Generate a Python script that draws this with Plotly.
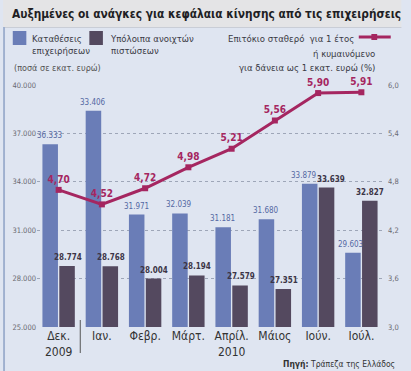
import plotly.graph_objects as go

# ---- data ----
months = ["Δεκ.<br>2009", "Ιαν.", "Φεβρ.", "Μάρτ.", "Απρίλ.<br>2010", "Μάιος", "Ιούν.", "Ιούλ."]
# bar heights (Jan bar is drawn at ~38.4k although printed as 33.406)
deposits = [36333, 38406, 31971, 32039, 31181, 31680, 33879, 29603]
deposit_labels = ["36.333", "33.406", "31.971", "32.039", "31.181", "31.680", "33.879", "29.603"]
credit = [28774, 28768, 28004, 28194, 27579, 27351, 33639, 32827]
credit_labels = ["28.774", "28.768", "28.004", "28.194", "27.579", "27.351", "33.639", "32.827"]
rate = [4.70, 4.52, 4.72, 4.98, 5.21, 5.56, 5.90, 5.91]
rate_labels = ["4,70", "4,52", "4,72", "4,98", "5,21", "5,56", "5,90", "5,91"]
left_ticks = [25000, 28000, 31000, 34000, 37000, 40000]
left_ticklabels = ["25.000", "28.000", "31.000", "34.000", "37.000", "40.000"]
right_ticks = [3.0, 3.6, 4.2, 4.8, 5.4, 6.0]
right_ticklabels = ["3,0", "3,6", "4,2", "4,8", "5,4", "6,0"]

title = "Αυξημένες οι ανάγκες για κεφάλαια κίνησης από τις επιχειρήσεις"
legend_dep = "Καταθέσεις<br>επιχειρήσεων"
legend_cred = "Υπόλοιπα ανοιχτών<br>πιστώσεων"
units = "(ποσά σε εκατ. ευρώ)"
legend_rate = ["Επιτόκιο σταθερό  για 1 έτος", "ή κυμαινόμενο", "για δάνεια ως 1 εκατ. ευρώ (%)"]
source = "<b>Πηγή:</b> Τράπεζα της Ελλάδος"

# ---- styling ----
W, H = 411, 371
ML, MR, MT, MB = 35, 19, 85, 44
BLUE = "#6a7db7"
DARK = "#54495f"
RATE = "#a52660"
BG = "#dfe5f1"
FONT = "DejaVu Sans Condensed, Roboto, sans-serif"

PW = W - ML - MR
PH = H - MT - MB
CAT_W = PW / len(months)


def px_x(px):
    return (px - ML) / PW


def px_y(py):
    return (H - MB - py) / PH


fig = go.Figure()
fig.add_trace(go.Bar(x=months, y=deposits, marker_color=BLUE, marker_line_width=0,
                     name="dep", offsetgroup="a"))
fig.add_trace(go.Bar(x=months, y=credit, marker_color=DARK, marker_line_width=0,
                     name="cred", offsetgroup="b"))
fig.add_trace(go.Scatter(
    x=months, y=rate, yaxis="y2", mode="lines+markers+text",
    line=dict(color=RATE, width=3), marker=dict(symbol="square", size=6, color=RATE),
    text=["<b>%s</b>" % t for t in rate_labels], textposition="top center",
    textfont=dict(color=RATE, size=10, family=FONT), cliponaxis=False, name="rate",
))

shapes = [
    # title band
    dict(type="rect", xref="paper", yref="paper", x0=px_x(0), x1=px_x(W), y0=px_y(27), y1=px_y(0),
         fillcolor="#e4e4e6", line_width=0, layer="below"),
    dict(type="line", xref="paper", yref="paper", x0=px_x(0), x1=px_x(W), y0=px_y(27.5), y1=px_y(27.5),
         line=dict(color="#c9cdd6", width=1)),
    # left border
    dict(type="rect", xref="paper", yref="paper", x0=px_x(0), x1=px_x(2), y0=px_y(H), y1=px_y(27),
         fillcolor="#9fb0cf", line_width=0),
    # legend squares
    dict(type="rect", xref="paper", yref="paper", x0=px_x(10), x1=px_x(24), y0=px_y(45), y1=px_y(31),
         fillcolor=BLUE, line_width=0),
    dict(type="rect", xref="paper", yref="paper", x0=px_x(89), x1=px_x(103), y0=px_y(45), y1=px_y(31),
         fillcolor=DARK, line_width=0),
    # rate legend sample
    dict(type="line", xref="paper", yref="paper", x0=px_x(367), x1=px_x(400), y0=px_y(37), y1=px_y(37),
         line=dict(color=RATE, width=3)),
    dict(type="rect", xref="paper", yref="paper", x0=px_x(380), x1=px_x(386), y0=px_y(40), y1=px_y(34),
         fillcolor=RATE, line_width=0),
    # year separator between Dec 2009 and Jan
    dict(type="line", xref="x", yref="paper", x0=0.5, x1=0.5, y0=px_y(320), y1=px_y(353),
         line=dict(color="#555", width=1)),
]

annotations = [
    dict(text="<b>%s</b>" % title, x=px_x(7), y=px_y(14), xanchor="left", yanchor="middle",
         xref="paper", yref="paper", font=dict(size=11.8, color="#1e1e24", family=FONT)),
    dict(text=legend_dep, x=px_x(28), y=px_y(31), xanchor="left", yanchor="top", align="left",
         xref="paper", yref="paper", font=dict(size=9.5, color="#3a3a44", family=FONT)),
    dict(text=legend_cred, x=px_x(108), y=px_y(31), xanchor="left", yanchor="top", align="left",
         xref="paper", yref="paper", font=dict(size=9.5, color="#3a3a44", family=FONT)),
    dict(text=units, x=px_x(9), y=px_y(68), xanchor="left", yanchor="middle",
         xref="paper", yref="paper", font=dict(size=9, color="#555", family=FONT)),
    dict(text=legend_rate[0], x=px_x(364), y=px_y(38), xanchor="right", yanchor="middle",
         xref="paper", yref="paper", font=dict(size=9.5, color="#3a3a44", family=FONT)),
    dict(text=legend_rate[1], x=px_x(386), y=px_y(53), xanchor="right", yanchor="middle",
         xref="paper", yref="paper", font=dict(size=9.5, color="#3a3a44", family=FONT)),
    dict(text=legend_rate[2], x=px_x(386), y=px_y(68), xanchor="right", yanchor="middle",
         xref="paper", yref="paper", font=dict(size=9.5, color="#3a3a44", family=FONT)),
    dict(text=source, x=px_x(406), y=px_y(364), xanchor="right", yanchor="middle",
         xref="paper", yref="paper", font=dict(size=8.5, color="#333", family=FONT)),
]

# bar value labels, placed above each bar
BAR_SHIFT = CAT_W * 0.2
nudge_blue = [0, 0, 0, 0, 0, 0, 5, 2]
nudge_dark = [0, 0, 0, 0, 0, 0, 4, 0]
for i, m in enumerate(months):
    annotations.append(dict(text=deposit_labels[i], x=m, y=deposits[i], xref="x", yref="y",
                            xanchor="center", yanchor="bottom", xshift=-BAR_SHIFT - nudge_blue[i], yshift=2,
                            font=dict(size=8, color="#5568a3", family=FONT)))
    annotations.append(dict(text="<b>%s</b>" % credit_labels[i], x=m, y=credit[i], xref="x", yref="y",
                            xanchor="center", yanchor="bottom", xshift=BAR_SHIFT + nudge_dark[i], yshift=2,
                            font=dict(size=8, color="#3c3547", family=FONT)))

for a in annotations:
    a.update(showarrow=False)

fig.update_layout(
    width=W, height=H, margin=dict(l=ML, r=MR, t=MT, b=MB, pad=0),
    paper_bgcolor=BG, plot_bgcolor=BG, showlegend=False,
    barmode="group", bargap=0.22, bargroupgap=0.08,
    font=dict(family=FONT),
    shapes=shapes, annotations=annotations,
    xaxis=dict(range=[-0.5, 7.5], showgrid=False, showline=False, ticks="", zeroline=False,
               tickfont=dict(size=12, color="#333", family=FONT)),
    yaxis=dict(range=[25000, 40000], tickvals=left_ticks, ticktext=left_ticklabels,
               showgrid=True, gridcolor="#9ea6b8", griddash="dot", gridwidth=1,
               zeroline=False, showline=False, ticks="",
               tickfont=dict(size=7.5, color="#6a6a72", family=FONT)),
    yaxis2=dict(range=[3.0, 6.0], overlaying="y", side="right", tickvals=right_ticks,
                ticktext=right_ticklabels, showgrid=False, zeroline=False, showline=False, ticks="",
                ticklabelstandoff=4,
                tickfont=dict(size=7.5, color="#6a6a72", family=FONT)),
)

fig.write_html("out.html", config={"displayModeBar": False},
               post_script="document.body.style.margin='0';")
